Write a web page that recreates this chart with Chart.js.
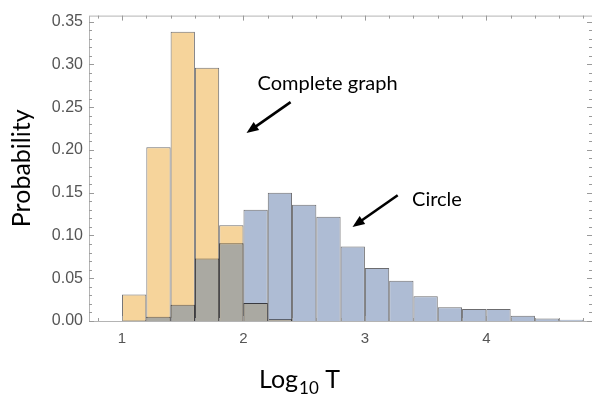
<!DOCTYPE html>
<html>
<head>
<meta charset="utf-8">
<script src="https://cdn.jsdelivr.net/npm/chart.js@4.4.1/dist/chart.umd.min.js"></script>
<style>
html, body { margin: 0; padding: 0; background: #fff; }
</style>
</head>
<body>
<canvas id="myChart" width="592" height="396"></canvas>
<script>
// histogram bins of Log10 T (width 0.2), centres
var binCenters = [1.1, 1.3, 1.5, 1.7, 1.9, 2.1, 2.3, 2.5, 2.7, 2.9, 3.1, 3.3, 3.5, 3.7, 3.9, 4.1, 4.3, 4.5, 4.7];
var completeGraph = [0.031, 0.203, 0.338, 0.296, 0.112, 0.021, 0.002, 0, 0, 0, 0, 0, 0, 0, 0, 0, 0, 0, 0];
var circle = [0.001, 0.005, 0.019, 0.073, 0.091, 0.130, 0.150, 0.136, 0.122, 0.087, 0.062, 0.047, 0.029, 0.016, 0.014, 0.014, 0.006, 0.003, 0.0015];
var xTicks = [1, 2, 3, 4];
var yTicks = [0, 0.05, 0.10, 0.15, 0.20, 0.25, 0.30, 0.35];

// where the two histograms overlap
var overlap = binCenters.map(function (x, i) {
    return { x: x, y: Math.min(completeGraph[i], circle[i]) };
});
function pts(arr) {
    return binCenters.map(function (x, i) { return { x: x, y: arr[i] }; });
}

var notes = [
    { text: 'Complete graph', x: 2.116, y: 0.2706, from: [2.388, 0.2558], to: [2.025, 0.2198] },
    { text: 'Circle', x: 3.388, y: 0.1347, from: [3.270, 0.147], to: [2.898, 0.110] }
];

var edge = 'rgba(45,45,50,0.7)';

var framePlugin = {
    id: 'frame',
    afterDraw: function (chart) {
        var c = chart.ctx, a = chart.chartArea;
        var xs = chart.scales.x, ys = chart.scales.y;
        c.save();
        c.strokeStyle = '#b4b4b4';
        c.lineWidth = 1;
        c.strokeRect(a.left + 0.5, a.top + 0.5, a.right - a.left, a.bottom - a.top);
        c.strokeStyle = '#9a9a9a';
        c.beginPath();
        for (var i = 0; i <= 35; i++) {
            var v = i / 100;
            var py = Math.round(ys.getPixelForValue(v)) + 0.5;
            var len = (i % 5 === 0) ? 5 : 3;
            c.moveTo(a.left, py); c.lineTo(a.left + len, py);
            c.moveTo(a.right, py); c.lineTo(a.right - len, py);
        }
        for (var j = 4; j <= 24; j++) {
            var xv = j / 5;
            var px = Math.round(xs.getPixelForValue(xv)) + 0.5;
            var l2 = (j % 5 === 0) ? 5 : 3;
            c.moveTo(px, a.bottom); c.lineTo(px, a.bottom - l2);
            c.moveTo(px, a.top); c.lineTo(px, a.top + l2);
        }
        c.stroke();

        // x axis title with subscript
        c.fillStyle = '#000';
        c.textBaseline = 'alphabetic';
        var big = '25px Lato', small = '17px Lato';
        c.font = big; var w1 = c.measureText('Log').width;
        c.font = small; var w2 = c.measureText('10').width;
        c.font = big; var w3 = c.measureText(' T').width;
        var x0 = 299 - (w1 + w2 + w3) / 2, base = 388;
        c.font = big; c.fillText('Log', x0, base);
        c.font = small; c.fillText('10', x0 + w1 + 1, base + 6);
        c.font = big; c.fillText(' T', x0 + w1 + w2 + 1, base);

        // annotations
        c.font = '20px Lato';
        notes.forEach(function (n) {
            c.fillText(n.text, xs.getPixelForValue(n.x), ys.getPixelForValue(n.y));
            var x1 = xs.getPixelForValue(n.from[0]), y1 = ys.getPixelForValue(n.from[1]);
            var x2 = xs.getPixelForValue(n.to[0]), y2 = ys.getPixelForValue(n.to[1]);
            var ang = Math.atan2(y2 - y1, x2 - x1);
            c.strokeStyle = '#000';
            c.lineWidth = 2.6;
            c.beginPath();
            c.moveTo(x1, y1);
            c.lineTo(x2 - 8 * Math.cos(ang), y2 - 8 * Math.sin(ang));
            c.stroke();
            c.beginPath();
            c.moveTo(x2, y2);
            c.lineTo(x2 - 13 * Math.cos(ang - 0.38), y2 - 13 * Math.sin(ang - 0.38));
            c.lineTo(x2 - 13 * Math.cos(ang + 0.38), y2 - 13 * Math.sin(ang + 0.38));
            c.closePath();
            c.fillStyle = '#000';
            c.fill();
        });
        c.restore();
    }
};

var ctx = document.getElementById('myChart');
var myChart = new Chart(ctx, {
    type: 'bar',
    data: {
        datasets: [{
            label: 'overlap',
            data: overlap,
            backgroundColor: '#aaa9a2',
            borderColor: edge,
            borderWidth: 1
        }, {
            label: 'Complete graph',
            data: pts(completeGraph),
            backgroundColor: '#f6d49b',
            borderColor: edge,
            borderWidth: 1
        }, {
            label: 'Circle',
            data: pts(circle),
            backgroundColor: '#aebcd4',
            borderColor: edge,
            borderWidth: 1
        }]
    },
    options: {
        responsive: false,
        animation: false,
        layout: { padding: { top: 7, right: 0, left: 0, bottom: 0 } },
        datasets: {
            bar: { grouped: false, barPercentage: 1, categoryPercentage: 1, inflateAmount: 0 }
        },
        plugins: { legend: { display: false }, tooltip: { enabled: false } },
        scales: {
            x: {
                type: 'linear',
                offset: false,
                min: 0.728,
                max: 4.87,
                grid: { display: false, drawTicks: false },
                border: { display: false },
                afterBuildTicks: function (s) { s.ticks = xTicks.map(function (v) { return { value: v }; }); },
                afterFit: function (s) { s.height = 75; },
                ticks: {
                    padding: 9,
                    color: '#555',
                    font: { family: 'Liberation Sans', size: 15 },
                    callback: function (v) { return String(v); }
                }
            },
            y: {
                min: 0,
                max: 0.357,
                grid: { display: false, drawTicks: false },
                border: { display: false },
                afterBuildTicks: function (s) { s.ticks = yTicks.map(function (v) { return { value: v }; }); },
                afterFit: function (s) { s.width = 89; },
                ticks: {
                    padding: 6,
                    color: '#555',
                    font: { family: 'Liberation Sans', size: 16 },
                    callback: function (v) { return v.toFixed(2); }
                },
                title: {
                    display: true,
                    text: 'Probability',
                    color: '#000',
                    font: { family: 'Lato', size: 25 },
                    padding: { top: 7, bottom: 0 }
                }
            }
        }
    },
    plugins: [framePlugin]
});
window.chart = myChart;
</script>
</body>
</html>
